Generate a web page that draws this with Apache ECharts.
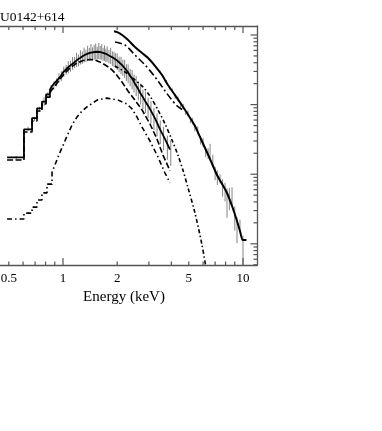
<!DOCTYPE html>
<html><head><meta charset="utf-8">
<script src="https://cdn.jsdelivr.net/npm/echarts@6/dist/echarts.min.js"></script>
<style>html,body{margin:0;padding:0;background:#fff;}#c{width:382px;height:431px;}</style>
</head><body><div id="c"></div>
<script>
const titleText = 'U0142+614';
const xName = 'Energy (keV)';
const xMin = 0.4467, xMax = 11.96;
const yMin = 4.96e-4, yMax = 1.347;
const xMajorTicks = [1, 10];
const xMinorTicks = [0.5, 0.6, 0.7, 0.8, 0.9, 2, 3, 4, 5, 6, 7, 8, 9];
const xLabelValues = [0.5, 1, 2, 5, 10];
const xLabelTexts = ['0.5', '1', '2', '5', '10'];
const yMajorTicks = [0.001, 0.01, 0.1, 1];
const yMinorTicks = [0.0005, 0.0006, 0.0007, 0.0008, 0.0009,
  0.002, 0.003, 0.004, 0.005, 0.006, 0.007, 0.008, 0.009,
  0.02, 0.03, 0.04, 0.05, 0.06, 0.07, 0.08, 0.09,
  0.2, 0.3, 0.4, 0.5, 0.6, 0.7, 0.8, 0.9];

// low-energy data set (points with error bars)
const d1E = [0.55,0.64,0.695,0.74,0.785,0.825,0.86,0.89,0.92,0.95,0.98,1.01,1.04,1.07,1.10,1.13,1.16,1.19,1.22,1.25,1.28,1.31,1.34,1.37,1.40,1.43,1.46,1.49,1.52,1.55,1.58,1.61,1.64,1.67,1.70,1.73,1.76,1.80,1.84,1.88,1.92,1.96,2.00,2.05,2.10,2.15,2.20,2.25,2.30,2.36,2.42,2.48,2.55,2.62,2.70,2.78,2.87,2.97,3.08,3.20,3.33,3.47,3.62,3.80,3.97];
const d1V = [0.0172,0.045,0.062,0.086,0.112,0.138,0.17,0.19,0.21,0.245,0.26,0.30,0.32,0.35,0.36,0.40,0.41,0.45,0.44,0.49,0.48,0.53,0.51,0.56,0.54,0.59,0.55,0.58,0.60,0.56,0.61,0.57,0.59,0.54,0.57,0.52,0.55,0.50,0.52,0.47,0.46,0.44,0.43,0.39,0.38,0.35,0.34,0.30,0.29,0.255,0.24,0.21,0.195,0.165,0.15,0.125,0.115,0.095,0.083,0.066,0.055,0.043,0.035,0.026,0.022];
const d1Err = [0.06,0.07,0.07,0.08,0.14,0.1,0.12,0.14,0.13,0.15,0.16,0.17,0.16,0.2,0.18,0.21,0.18,0.23,0.19,0.23,0.2,0.24,0.2,0.25,0.21,0.26,0.21,0.24,0.26,0.21,0.26,0.22,0.25,0.21,0.25,0.22,0.25,0.22,0.26,0.24,0.25,0.24,0.27,0.25,0.28,0.26,0.29,0.27,0.3,0.28,0.31,0.29,0.32,0.3,0.33,0.31,0.34,0.32,0.35,0.35,0.36,0.37,0.37,0.38,0.4];

// low-energy total model: coarse bins then fine
const m1BinE = [0.489, 0.607, 0.673, 0.717, 0.764, 0.805, 0.847];
const m1BinV = [0.0174, 0.044, 0.064, 0.088, 0.110, 0.140];
const m1E = [0.847,0.87,0.90,0.94,0.97,1.00,1.05,1.09,1.15,1.20,1.25,1.29,1.36,1.41,1.50,1.55,1.60,1.67,1.75,1.82,1.90,1.95,2.02,2.13,2.21,2.30,2.36,2.45,2.51,2.61,2.68,2.78,2.86,3.04,3.25,3.46,3.69,3.93];
const m1V = [0.165,0.185,0.205,0.232,0.255,0.29,0.33,0.36,0.40,0.44,0.47,0.50,0.535,0.555,0.57,0.575,0.57,0.555,0.53,0.50,0.47,0.45,0.42,0.37,0.33,0.29,0.26,0.225,0.20,0.17,0.148,0.128,0.112,0.087,0.063,0.044,0.032,0.0225];

// low-energy component (long dashes)
const cEBinE = [0.489, 0.607, 0.673, 0.717, 0.764, 0.805, 0.847];
const cEBinV = [0.0160, 0.0404, 0.058, 0.081, 0.102, 0.128];
const cEE = [0.847,0.903,0.962,1.026,1.094,1.196,1.292,1.413,1.505,1.646,1.824,1.945,2.127,2.296,2.512,2.748,3.043,3.327,3.594,3.931];
const cEV = [0.152,0.185,0.233,0.285,0.336,0.396,0.43,0.445,0.437,0.396,0.336,0.285,0.211,0.157,0.116,0.0838,0.0527,0.032,0.0188,0.0112];

// low-energy component (dash-dot)
const cDBinE = [0.489, 0.607, 0.673, 0.717, 0.764, 0.815, 0.869];
const cDBinV = [0.00227, 0.00276, 0.00337, 0.00426, 0.0054, 0.0072];
const cDE = [0.869,0.903,0.938,0.987,1.053,1.122,1.196,1.275,1.359,1.545,1.756,2.023,2.266,2.418,2.577,2.748,3.043,3.368,3.687,3.931];
const cDV = [0.0107,0.0136,0.0177,0.0239,0.0354,0.0508,0.0663,0.0808,0.0926,0.116,0.124,0.116,0.102,0.0867,0.0663,0.0475,0.030,0.0177,0.0104,0.00749];

// high-energy data set
const d2E = [3.0,3.15,3.3,3.45,3.6,3.75,3.9,4.05,4.2,4.35,4.5,4.65,4.8,4.95,5.1,5.25,5.4,5.6,5.8,6.0,6.2,6.4,6.56,6.8,7.0,7.2,7.45,7.7,7.95,8.15,8.4,8.69,9.0,9.26,9.62,10.0];
const d2V = [0.45,0.40,0.335,0.30,0.25,0.215,0.175,0.16,0.13,0.122,0.10,0.095,0.078,0.075,0.060,0.058,0.047,0.043,0.031,0.029,0.021,0.020,0.0215,0.0158,0.0105,0.0092,0.0087,0.0066,0.0058,0.0043,0.0047,0.0050,0.0025,0.0017,0.0019,0.0009];
const d2Err = [0.03,0.03,0.04,0.04,0.05,0.05,0.06,0.06,0.07,0.07,0.08,0.08,0.09,0.1,0.1,0.11,0.12,0.13,0.14,0.15,0.16,0.18,0.27,0.2,0.22,0.24,0.15,0.28,0.3,0.45,0.35,0.3,0.38,0.4,0.17,0.45];

// high-energy total model
const m2E = [1.92,2.0,2.13,2.30,2.51,2.75,2.97,3.25,3.55,3.83,4.19,4.53,4.885,5.41,5.77,6.15,6.56,7.17,7.65,8.15,8.69,9.26,9.62,10.0,10.45];
const m2V = [1.13,1.10,1.0,0.847,0.672,0.551,0.467,0.358,0.266,0.191,0.137,0.102,0.0757,0.0493,0.0342,0.0238,0.0165,0.00974,0.00723,0.00537,0.00349,0.00213,0.00153,0.00113,0.00113];

// high-energy components
const cBE = [1.945,2.21,2.51,2.855,3.25,3.69,4.03,4.30,4.64];
const cBV = [0.793,0.718,0.516,0.371,0.249,0.157,0.116,0.0958,0.0838];
const cFE = [1.945,2.21,2.51,2.78,3.04,3.37,3.69,4.03,4.35,4.64,4.95,5.41,5.92,6.23];
const cFV = [0.358,0.294,0.226,0.179,0.133,0.0838,0.0527,0.031,0.0188,0.0114,0.00636,0.00276,0.00096,0.00045];

function hist(binE, binV, e, v) {
  const out = [];
  for (let i = 0; i < binV.length; i++) { out.push([binE[i], binV[i]]); out.push([binE[i + 1], binV[i]]); }
  for (let i = 0; i < e.length; i++) out.push([e[i], v[i]]);
  return out;
}
function pairs(e, v) { return e.map((x, i) => [x, v[i]]); }
function errs(e, v, r) { return e.map((x, i) => [x, v[i] * (1 - r[i]), v[i] * (1 + r[i])]); }

const tickData = [];
xMajorTicks.forEach(v => { tickData.push([v, yMin, 0, 7]); tickData.push([v, yMax, 1, 7]); });
xMinorTicks.forEach(v => { tickData.push([v, yMin, 0, 3.5]); tickData.push([v, yMax, 1, 4]); });
yMajorTicks.forEach(v => { tickData.push([xMax, v, 2, 6.5]); });
yMinorTicks.forEach(v => { tickData.push([xMax, v, 2, 3.5]); });

const serif = '"Liberation Serif", "DejaVu Serif", serif';
const frameColor = '#555';
const barColor = '#858585';
const frameLine = { show: true, lineStyle: { color: frameColor, width: 1.3 } };
const hidden = { axisTick: { show: false }, axisLabel: { show: false }, splitLine: { show: false } };

function errRender(params, api) {
  const p1 = api.coord([api.value(0), api.value(2)]);
  const p2 = api.coord([api.value(0), api.value(1)]);
  return { type: 'line', shape: { x1: p1[0], y1: p1[1], x2: p2[0], y2: p2[1] },
    style: { stroke: barColor, lineWidth: 1 } };
}

const chart = echarts.init(document.getElementById('c'), null, { renderer: 'canvas' });
chart.setOption({
  animation: false,
  backgroundColor: '#fff',
  title: { text: titleText, left: 0, top: 10, padding: 0,
    textStyle: { fontFamily: serif, fontSize: 13.5, fontWeight: 'normal', color: '#000' } },
  grid: { left: 0, right: 125, top: 26, bottom: 166, show: false },
  xAxis: [
    Object.assign({ type: 'log', logBase: 10, min: xMin, max: xMax, position: 'bottom',
      name: xName, nameLocation: 'middle', nameGap: 25,
      nameTextStyle: { fontFamily: serif, fontSize: 15, color: '#000', padding: [0, 9, 0, 0] },
      axisLine: frameLine }, hidden),
    Object.assign({ type: 'log', logBase: 10, min: xMin, max: xMax, position: 'top',
      axisLine: frameLine }, hidden)
  ],
  yAxis: Object.assign({ type: 'log', logBase: 10, min: yMin, max: yMax, position: 'right',
    axisLine: frameLine }, hidden),
  series: [
    { type: 'custom', name: 'err1', data: errs(d1E, d1V, d1Err), renderItem: errRender, clip: true, z: 1, silent: true,
      encode: { x: 0, y: [1, 2] } },
    { type: 'custom', name: 'err2', data: errs(d2E, d2V, d2Err), renderItem: errRender, clip: true, z: 1, silent: true,
      encode: { x: 0, y: [1, 2] } },
    { type: 'line', name: 'model1', data: hist(m1BinE, m1BinV, m1E, m1V), symbol: 'none', z: 3,
      lineStyle: { color: '#000', width: 1.8 } },
    { type: 'line', name: 'compE', data: hist(cEBinE, cEBinV, cEE, cEV), symbol: 'none', z: 3,
      lineStyle: { color: '#000', width: 1.6, type: [6, 2.5] } },
    { type: 'line', name: 'compD', data: hist(cDBinE, cDBinV, cDE, cDV), symbol: 'none', z: 3,
      lineStyle: { color: '#000', width: 1.6, type: [5, 3, 1.5, 3] } },
    { type: 'line', name: 'model2', data: pairs(m2E, m2V), symbol: 'none', z: 3, smooth: 0.3,
      lineStyle: { color: '#000', width: 2 } },
    { type: 'line', name: 'compB', data: pairs(cBE, cBV), symbol: 'none', z: 3, smooth: 0.3,
      lineStyle: { color: '#000', width: 1.6, type: [7, 3, 2, 3] } },
    { type: 'line', name: 'compF', data: pairs(cFE, cFV), symbol: 'none', z: 3, smooth: 0.3,
      lineStyle: { color: '#000', width: 1.6, type: [4, 2.5, 1.5, 2.5] } },
    { type: 'custom', name: 'ticks', data: tickData, clip: false, z: 5, silent: true,
      encode: { x: 0, y: 1 },
      renderItem: function (params, api) {
        const p = api.coord([api.value(0), api.value(1)]);
        const k = api.value(2), L = api.value(3);
        let x2 = p[0], y2 = p[1];
        if (k === 0) y2 = p[1] - L; else if (k === 1) y2 = p[1] + L; else x2 = p[0] - L;
        return { type: 'line', shape: { x1: p[0], y1: p[1], x2: x2, y2: y2 },
          style: { stroke: frameColor, lineWidth: 1.2 } };
      } },
    { type: 'custom', name: 'xlabels', data: xLabelValues.map(v => [v, yMin]), clip: false, z: 5, silent: true,
      encode: { x: 0, y: 1 },
      renderItem: function (params, api) {
        const p = api.coord([api.value(0), api.value(1)]);
        return { type: 'text', x: p[0], y: p[1] + 14,
          style: { text: xLabelTexts[params.dataIndex], align: 'center', verticalAlign: 'middle',
            fontFamily: serif, fontSize: 13, fill: '#000' } };
      } }
  ]
});
</script></body></html>
